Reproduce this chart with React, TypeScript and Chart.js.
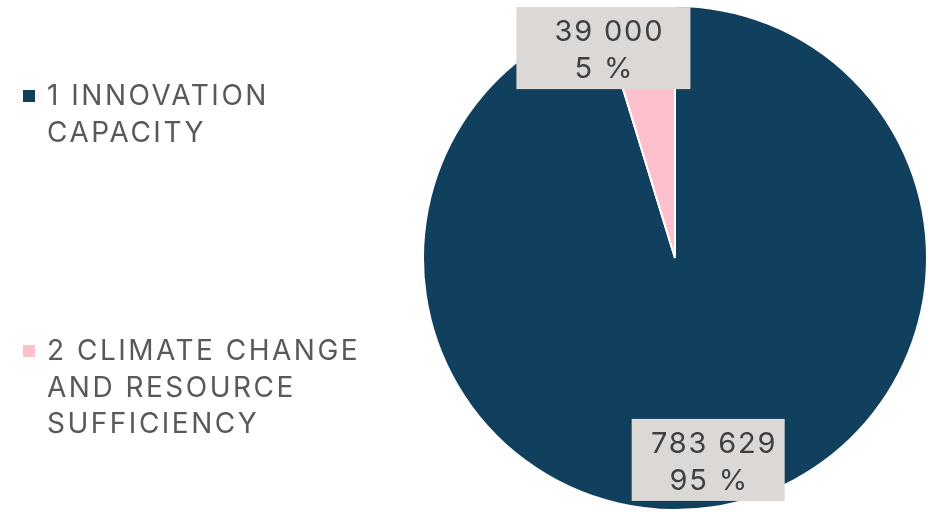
import React, { useEffect, useRef } from "react";
import { Chart, registerables } from "chart.js";

Chart.register(...registerables);

const categories = ["1 INNOVATION CAPACITY", "2 CLIMATE CHANGE AND RESOURCE SUFFICIENCY"];
const legendLines = [["1 INNOVATION", "CAPACITY"], ["2 CLIMATE CHANGE", "AND RESOURCE", "SUFFICIENCY"]];
const values = [783629, 39000];
const valueLabels = ["783 629", "39 000"];
const percentLabels = ["95 %", "5 %"];
const colors = ["#11405f", "#ffc0cd"];

const labelPlugin = {
  id: "boxLabels",
  afterDatasetsDraw(chart: any) {
    const ctx = chart.ctx;
    const meta = chart.getDatasetMeta(0);
    const place = [
      { shift: -0.8, rf: 0.812, w: 153 },
      { shift: -10.3, rf: 0.88, w: 174 },
    ];
    meta.data.forEach((arc: any, i: number) => {
      const { x, y, startAngle, endAngle, outerRadius } = arc.getProps(
        ["x", "y", "startAngle", "endAngle", "outerRadius"],
        true
      );
      const mid = (startAngle + endAngle) / 2 + (place[i].shift * Math.PI) / 180;
      const r = outerRadius * place[i].rf;
      const cx = x + Math.cos(mid) * r;
      const cy = y + Math.sin(mid) * r;
      const w = place[i].w;
      const h = 82;
      ctx.save();
      ctx.fillStyle = "#dcd8d5";
      ctx.fillRect(cx - w / 2, cy - h / 2, w, h);
      ctx.fillStyle = "#404040";
      ctx.font = "29px Inter, 'Liberation Sans', Arial, sans-serif";
      ctx.textAlign = "center";
      ctx.textBaseline = "alphabetic";
      (ctx as any).letterSpacing = "1.8px";
      ctx.fillText(valueLabels[i], cx + 6, cy - 7);
      ctx.fillText(percentLabels[i], cx + 1, cy + 30);
      ctx.restore();
    });
  },
  afterDraw(chart: any) {
    const ctx = chart.ctx;
    const starts = [96, 351];
    ctx.save();
    legendLines.forEach((lines, i) => {
      ctx.fillStyle = colors[i];
      ctx.fillRect(23, starts[i] - 6, 12, 12);
      ctx.fillStyle = "#595959";
      ctx.font = "28px Inter, 'Liberation Sans', Arial, sans-serif";
      (ctx as any).letterSpacing = "2.5px";
      ctx.textAlign = "left";
      ctx.textBaseline = "middle";
      lines.forEach((t, j) => {
        ctx.fillText(t, 47, starts[i] + j * 36.5 + 1);
      });
    });
    ctx.restore();
  },
};

export default function App() {
  const ref = useRef<HTMLCanvasElement>(null);
  useEffect(() => {
    document.body.style.margin = "0";
    const chart = new Chart(ref.current!, {
      type: "pie",
      data: {
        labels: categories,
        datasets: [
          {
            data: values,
            backgroundColor: colors,
            borderColor: "#ffffff",
            borderWidth: 2,
          },
        ],
      },
      options: {
        animation: false,
        responsive: false,
        layout: { padding: { left: 422, right: -4, top: 4, bottom: -6 } },
        plugins: { legend: { display: false }, tooltip: { enabled: false } },
      },
      plugins: [labelPlugin],
    });
    return () => chart.destroy();
  }, []);
  return (
    <div style={{ position: "absolute", left: 0, top: 0, width: 928, height: 512, background: "#fff" }}>
      <canvas ref={ref} width={928} height={512} />
    </div>
  );
}
